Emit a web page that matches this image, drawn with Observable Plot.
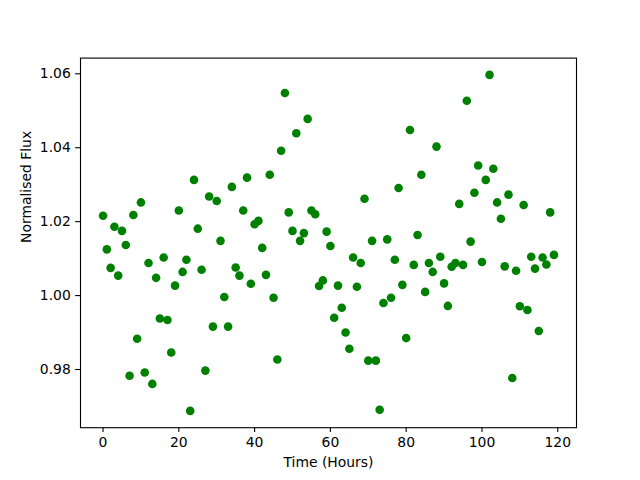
<!DOCTYPE html>
<html>
<head>
<meta charset="utf-8">
<script src="https://cdn.jsdelivr.net/npm/d3@7"></script>
<script src="https://cdn.jsdelivr.net/npm/@observablehq/plot@0.6"></script>
<style>
  html, body { margin: 0; padding: 0; background: #fff; }
  svg { display: block; }
</style>
</head>
<body>
<div id="chart"></div>
<script>
const hours = [
  0,1,2,3,4,5,6,7,8,9,10,11,12,13,14,15,16,17,18,19,
  20,21,22,23,24,25,26,27,28,29,30,31,32,33,34,35,36,37,38,39,
  40,41,42,43,44,45,46,47,48,49,50,51,52,53,54,55,56,57,58,59,
  60,61,62,63,64,65,66,67,68,69,70,71,72,73,74,75,76,77,78,79,
  80,81,82,83,84,85,86,87,88,89,90,91,92,93,94,95,96,97,98,99,
  100,101,102,103,104,105,106,107,108,109,110,111,112,113,114,115,116,117,118,119
];
const flux = [
  1.0216,1.0125,1.0075,1.0186,1.0054,1.0175,1.0137,0.9783,1.0218,0.9883,
  1.0252,0.9792,1.0088,0.9761,1.0048,0.9938,1.0103,0.9934,0.9846,1.0027,
  1.0230,1.0064,1.0097,0.9688,1.0313,1.0181,1.0070,0.9797,1.0268,0.9916,
  1.0256,1.0148,0.9996,0.9916,1.0294,1.0076,1.0054,1.0230,1.0319,1.0032,
  1.0193,1.0202,1.0129,1.0056,1.0327,0.9994,0.9827,1.0392,1.0548,1.0225,
  1.0175,1.0439,1.0148,1.0169,1.0478,1.0230,1.0220,1.0026,1.0041,1.0173,
  1.0134,0.9940,1.0027,0.9967,0.9900,0.9856,1.0103,1.0024,1.0088,1.0262,
  0.9824,1.0148,0.9824,0.9691,0.9980,1.0152,0.9994,1.0097,1.0291,1.0029,
  0.9885,1.0448,1.0083,1.0164,1.0327,1.0010,1.0088,1.0064,1.0403,1.0105,
  1.0033,0.9972,1.0078,1.0088,1.0248,1.0083,1.0527,1.0146,1.0278,1.0352,
  1.0091,1.0313,1.0597,1.0343,1.0252,1.0208,1.0079,1.0273,0.9777,1.0067,
  0.9971,1.0245,0.9961,1.0105,1.0073,0.9904,1.0103,1.0084,1.0225,1.0110
];
const xTicks = [0, 20, 40, 60, 80, 100, 120];
const yTicks = [0.98, 1.00, 1.02, 1.04, 1.06];
const xLabel = "Time (Hours)";
const yLabel = "Normalised Flux";

const data = hours.map((h, i) => ({hour: h, flux: flux[i]}));

function padded(ext) {
  const m = (ext[1] - ext[0]) * 0.05;
  return [ext[0] - m, ext[1] + m];
}

const font = "DejaVu Sans, sans-serif";
const fs = 13.9;
const tick = 4.86;

const plot = Plot.plot({
  width: 640,
  height: 480,
  marginLeft: 80,
  marginRight: 64,
  marginTop: 57.6,
  marginBottom: 52.8,
  style: {fontFamily: font, fontSize: fs + "px", color: "black", background: "white", overflow: "visible"},
  x: {domain: padded(d3.extent(hours)), label: null},
  y: {domain: padded(d3.extent(flux)), label: null},
  marks: [
    Plot.dot(data, {x: "hour", y: "flux", r: 4.3, fill: "#008000", stroke: "none"}),
    Plot.frame({stroke: "black", strokeWidth: 1.1}),
    Plot.axisX(xTicks, {tickSize: tick, tickPadding: tick, strokeWidth: 1.1, fontSize: fs, label: null, fill: "black"}),
    Plot.axisY(yTicks, {tickSize: tick, tickPadding: tick, strokeWidth: 1.1, fontSize: fs, label: null, fill: "black", tickFormat: d3.format(".2f")}),
    Plot.text([xLabel], {text: d => d, frameAnchor: "bottom", dy: 39, fontSize: fs, fill: "black"}),
    Plot.text([yLabel], {text: d => d, frameAnchor: "left", dx: -54, rotate: -90, fontSize: fs, fill: "black"})
  ]
});
document.getElementById("chart").appendChild(plot);
</script>
</body>
</html>
